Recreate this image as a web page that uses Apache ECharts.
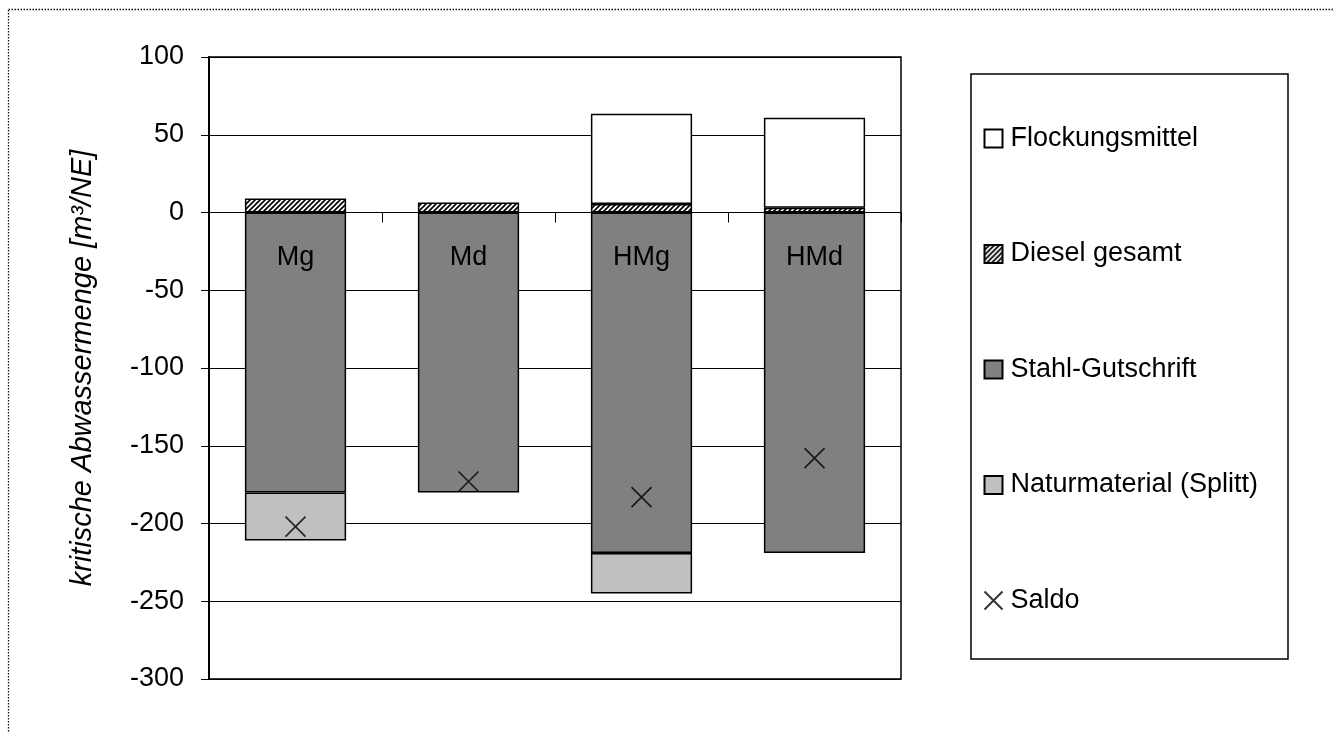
<!DOCTYPE html>
<html>
<head>
<meta charset="utf-8">
<script src="https://cdn.jsdelivr.net/npm/echarts@6/dist/echarts.min.js"></script>
<style>
html,body{margin:0;padding:0;background:#fff;}
#chart{width:1333px;height:733px;}
</style>
</head>
<body>
<div id="chart"></div>
<script>
// ---- data ----
var categories = ['Mg', 'Md', 'HMg', 'HMd'];
var flockungsmittel = [0, 0, 58, 58];
var dieselGesamt = [9, 6.5, 5.5, 3];
var stahlGutschrift = [-180, -180, -219, -219];
var naturmaterial = [-31, 0, -26, 0];
var saldo = [-202, -173, -183, -158];
var yTicks = { min: -300, max: 100, step: 50 };
var yAxisTitle = 'kritische Abwassermenge [m³/NE]';
var seriesNames = ['Flockungsmittel', 'Diesel gesamt', 'Stahl-Gutschrift', 'Naturmaterial (Splitt)', 'Saldo'];

// ---- hatch pattern ----
function makeHatch() {
  var s = 5;
  var c = document.createElement('canvas');
  c.width = s; c.height = s;
  var ctx = c.getContext('2d');
  ctx.fillStyle = '#fff';
  ctx.fillRect(0, 0, s, s);
  ctx.strokeStyle = '#000';
  ctx.lineWidth = 1.7;
  ctx.beginPath();
  ctx.moveTo(-1, s + 1); ctx.lineTo(s + 1, -1);
  ctx.moveTo(-1, 1); ctx.lineTo(1, -1);
  ctx.moveTo(s - 1, s + 1); ctx.lineTo(s + 1, s - 1);
  ctx.stroke();
  return c;
}
function skipZero(arr) { return arr.map(function (v) { return v === 0 ? '-' : v; }); }

var FONT = 'Liberation Sans, Arial, sans-serif';
var chart = echarts.init(document.getElementById('chart'), null, { renderer: 'canvas' });
var barBorder = { borderColor: '#000', borderWidth: 1.5 };
var crossPath = 'path://M0,0L10,10M10,0L0,10';

var option = {
  backgroundColor: '#fff',
  animation: false,
  textStyle: { fontFamily: FONT },
  grid: {
    left: 209, top: 57, right: 432, bottom: 54,
    show: true, borderColor: '#000', borderWidth: 1.5, backgroundColor: 'transparent'
  },
  graphic: [
    { type: 'rect', z: 0, silent: true,
      shape: { x: 8.5, y: 9.5, width: 1400, height: 800 },
      style: { fill: 'none', stroke: '#111', lineWidth: 1.3, lineDash: [1.5, 1.5] } },
    { type: 'rect', z: 0, silent: true,
      shape: { x: 971, y: 74, width: 317, height: 585 },
      style: { fill: 'none', stroke: '#000', lineWidth: 1.5 } }
  ],
  legend: {
    orient: 'vertical',
    left: 982, top: 125,
    itemWidth: 18, itemHeight: 18,
    itemGap: 88.5,
    padding: 0,
    data: [
      { name: seriesNames[0], icon: 'rect' },
      { name: seriesNames[1], icon: 'rect' },
      { name: seriesNames[2], icon: 'rect' },
      { name: seriesNames[3], icon: 'rect' },
      { name: seriesNames[4], icon: crossPath }
    ],
    textStyle: { fontFamily: FONT, fontSize: 27, lineHeight: 26, color: '#000', padding: [0, 0, 0, 3] }
  },
  xAxis: {
    type: 'category',
    data: categories,
    z: 10,
    axisLine: { onZero: true, lineStyle: { color: '#000', width: 1 } },
    axisTick: { show: true, inside: false, length: 10, lineStyle: { color: '#000' } },
    axisLabel: { show: false },
    splitLine: { show: false }
  },
  yAxis: {
    type: 'value',
    min: yTicks.min, max: yTicks.max, interval: yTicks.step,
    name: yAxisTitle,
    nameLocation: 'middle',
    nameRotate: 90,
    nameGap: 112,
    nameTextStyle: { fontFamily: FONT, fontSize: 29, fontStyle: 'italic', color: '#000' },
    axisLine: { show: true, lineStyle: { color: '#000', width: 2 } },
    axisTick: { show: true, inside: false, length: 8, lineStyle: { color: '#000' } },
    axisLabel: { fontFamily: FONT, fontSize: 27, color: '#000', margin: 25 },
    splitLine: { show: true, lineStyle: { color: '#000', width: 1 } }
  },
  series: [
    { name: seriesNames[2], type: 'bar', stack: 'all', barWidth: '58.5%',
      data: skipZero(stahlGutschrift), itemStyle: Object.assign({ color: '#808080' }, barBorder),
      label: { show: true, position: 'insideTop', distance: 32, formatter: '{b}',
               fontFamily: FONT, fontSize: 27, color: '#000' } },
    { name: seriesNames[3], type: 'bar', stack: 'all', barWidth: '58.5%',
      data: skipZero(naturmaterial), itemStyle: Object.assign({ color: '#c0c0c0' }, barBorder) },
    { name: seriesNames[1], type: 'bar', stack: 'all', barWidth: '58.5%',
      data: skipZero(dieselGesamt),
      itemStyle: Object.assign({ color: { image: makeHatch(), repeat: 'repeat' } }, barBorder) },
    { name: seriesNames[0], type: 'bar', stack: 'all', barWidth: '58.5%',
      data: skipZero(flockungsmittel), itemStyle: Object.assign({ color: '#ffffff' }, barBorder) },
    { name: seriesNames[4], type: 'scatter', z: 5,
      symbol: crossPath, symbolSize: 20,
      data: saldo,
      itemStyle: { color: 'none', borderColor: '#000', borderWidth: 1.7 } }
  ]
};
chart.setOption(option);
</script>
</body>
</html>
